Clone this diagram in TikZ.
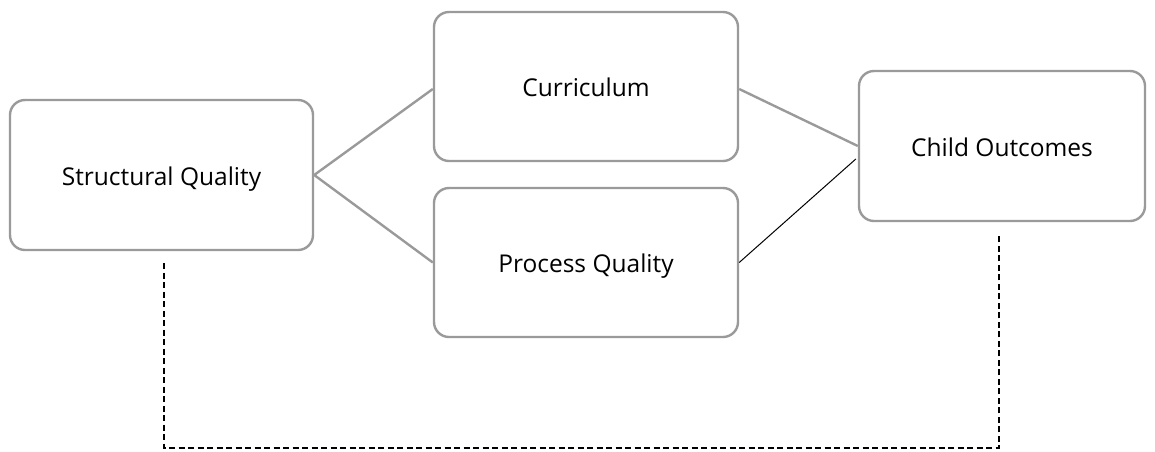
\documentclass[tikz,border=0pt]{standalone}
\usepackage{fontspec}
\setmainfont{Open Sans}
\usetikzlibrary{calc}
\definecolor{boxgray}{HTML}{9A9A9A}
% put the baseline of a box label a little below the box centre
\newcommand{\boxtext}[1]{\raisebox{-10pt}[0pt][0pt]{#1}}
\begin{document}
\begin{tikzpicture}[x=1pt,y=-1pt,
  qbox/.style={draw=boxgray, line width=2.4pt, rounded corners=15pt, fill=white,
    minimum height=150pt, inner sep=0pt, font=\fontsize{24.5}{28}\selectfont},
  glink/.style={draw=boxgray, line width=2.4pt},
  blink/.style={draw=black, line width=1pt},
  dlink/.style={draw=black, line width=1.4pt, dash pattern=on 6pt off 3.5pt}]
\useasboundingbox (0,0) rectangle (1155,451);
\node[qbox, minimum width=303pt] (s) at (161.5,175) {\boxtext{Structural Quality}};
\node[qbox, minimum width=304pt, minimum height=149pt] (c) at (586,86.5) {\boxtext{Curriculum}};
\node[qbox, minimum width=304pt, minimum height=149pt] (p) at (586,262.5) {\boxtext{Process Quality}};
\node[qbox, minimum width=286pt] (o) at (1002,146) {\boxtext{Child Outcomes}};
% links between the quality boxes
\draw[glink] (s.east) -- ($(c.west)+(0,2.5)$);
\draw[glink] (s.east) -- (p.west);
\draw[glink] ($(c.east)+(0,2.5)$) -- (o.west);
\draw[blink] (p.east) -- ($(o.west)+(-2,13)$);
% dashed bracket underneath
\coordinate (d1) at ($(s.south)+(2.5,12)$);
\coordinate (d2) at ($(o.south)+(-3,14)$);
\draw[dlink] (d1) -- (d1 |- 0,448) -- (d2 |- 0,448) -- (d2);
\end{tikzpicture}
\end{document}
